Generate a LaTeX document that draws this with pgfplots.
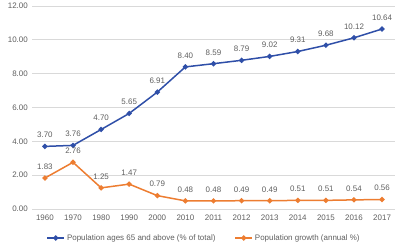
\documentclass[border=0pt]{standalone}
\usepackage{fontspec}
\setmainfont{Liberation Sans}
\usepackage{pgfplots}
\pgfplotsset{compat=1.18}
\definecolor{cblue}{HTML}{2F4FA8}
\definecolor{corange}{HTML}{ED7D31}
\definecolor{tgray}{HTML}{5F5F5F}
\definecolor{ggray}{HTML}{D9D9D9}
\begin{document}
\begin{tikzpicture}
\useasboundingbox (0,0) rectangle (400bp,245bp);
\begin{axis}[
  at={(32bp,36bp)}, anchor=south west,
  scale only axis, width=363bp, height=203bp,
  xmin=-0.46, xmax=12.46, ymin=0, ymax=12,
  xtick={0,...,12},
  xticklabels={1960,1970,1980,1990,2000,2010,2011,2012,2013,2014,2015,2016,2017},
  ytick={0,2,...,12},
  /pgf/number format/assume math mode=true,
  yticklabel={\pgfmathprintnumber[fixed,fixed zerofill,precision=2]{\tick}},
  ymajorgrids, grid style={ggray, line width=0.8bp},
  axis line style={draw=none}, major tick length=0pt,
  tick label style={font=\fontsize{8}{9}\selectfont, text=tgray, inner sep=0pt},
  yticklabel style={anchor=east, xshift=-4bp},
  xticklabel style={anchor=north, yshift=-6bp},
  every node near coord/.append style={font=\fontsize{8}{9}\selectfont, text=tgray, yshift=4.5bp},
  nodes near coords, point meta=explicit symbolic,
  legend style={at={(0.474,-0.143)}, anchor=center, legend columns=2, draw=none,
    font=\fontsize{8}{9}\selectfont, text=tgray, inner sep=0pt,
    /tikz/every even column/.append style={column sep=17bp}},
  legend cell align=left,
]
\addplot[cblue, line width=1.5bp, mark=*, mark size=1.8bp] coordinates {
(0,3.70) [3.70] (1,3.76) [3.76] (2,4.70) [4.70] (3,5.65) [5.65] (4,6.91) [6.91]
(5,8.40) [8.40] (6,8.59) [8.59] (7,8.79) [8.79] (8,9.02) [9.02] (9,9.31) [9.31]
(10,9.68) [9.68] (11,10.12) [10.12] (12,10.64) [10.64]};
\addlegendentry{Population ages 65 and above (\% of total)}
\addplot[corange, line width=1.5bp, mark=*, mark size=1.8bp] coordinates {
(0,1.83) [1.83] (1,2.76) [2.76] (2,1.25) [1.25] (3,1.47) [1.47] (4,0.79) [0.79]
(5,0.48) [0.48] (6,0.48) [0.48] (7,0.49) [0.49] (8,0.49) [0.49] (9,0.51) [0.51]
(10,0.51) [0.51] (11,0.54) [0.54] (12,0.56) [0.56]};
\addlegendentry{Population growth (annual \%)}
\end{axis}
\end{tikzpicture}
\end{document}
